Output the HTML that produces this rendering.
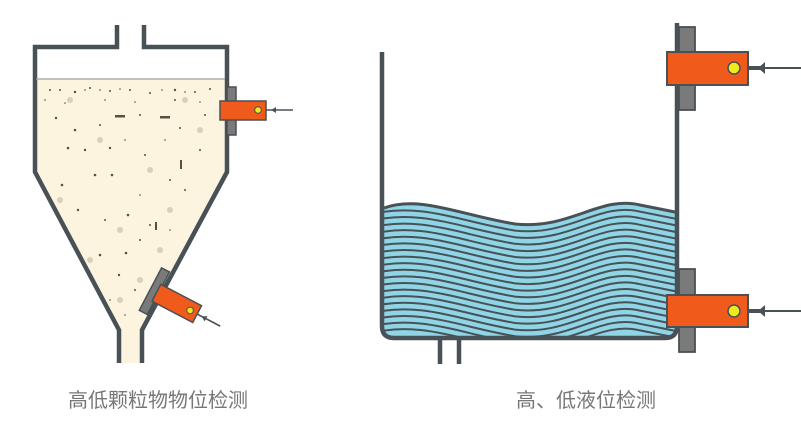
<!DOCTYPE html>
<html><head><meta charset="utf-8"><style>
html,body{margin:0;padding:0;background:#fff;width:801px;height:424px;overflow:hidden}
.t{position:absolute;font-family:"Liberation Sans","Noto Sans CJK SC",sans-serif;font-size:20px;color:#777;white-space:nowrap;top:384px}
</style></head><body>
<svg width="801" height="424" style="position:absolute;left:0;top:0">
<defs>
<clipPath id="fillc"><path d="M36 79 H225 V172 L140 330 V363 H121 V330 L36 172 Z"/></clipPath>
<clipPath id="wc"><path d="M384 208 C420 195 460 215 515 224 C570 230 600 195 640 205 L675 212 V328 Q675 336 667 336 H392 Q384 336 384 328 Z"/></clipPath>
</defs>
<rect x="30" y="79" width="200" height="290" fill="#fdf4e0" clip-path="url(#fillc)"/>
<g clip-path="url(#fillc)" fill="#d8d0bd">
<circle cx="70" cy="100" r="3"/><circle cx="100" cy="140" r="3"/><circle cx="150" cy="170" r="3"/><circle cx="200" cy="130" r="3"/><circle cx="60" cy="200" r="3"/><circle cx="120" cy="230" r="3"/><circle cx="170" cy="210" r="3"/><circle cx="90" cy="260" r="3"/><circle cx="140" cy="280" r="3"/><circle cx="120" cy="300" r="3"/><circle cx="185" cy="100" r="3"/><circle cx="160" cy="250" r="3"/>
</g>
<g clip-path="url(#fillc)" fill="#5a5040">
<circle cx="50" cy="90" r="1"/><circle cx="60" cy="90" r="1"/><circle cx="75" cy="92" r="1.2"/><circle cx="85" cy="90" r="0.8"/><circle cx="90" cy="88" r="1"/><circle cx="100" cy="90" r="0.8"/><circle cx="110" cy="91" r="1"/><circle cx="120" cy="89" r="0.8"/><circle cx="130" cy="90" r="1"/><circle cx="150" cy="93" r="1"/><circle cx="162" cy="90" r="0.8"/><circle cx="175" cy="90" r="1.2"/><circle cx="185" cy="92" r="0.8"/><circle cx="195" cy="92" r="1"/><circle cx="210" cy="89" r="1"/>
<circle cx="45" cy="100" r="0.8"/><circle cx="65" cy="103" r="0.8"/><circle cx="105" cy="100" r="0.8"/><circle cx="135" cy="102" r="0.8"/><circle cx="175" cy="100" r="1"/><circle cx="200" cy="102" r="0.8"/>
<circle cx="56" cy="118" r="1.2"/><circle cx="75" cy="130" r="1.3"/><circle cx="100" cy="125" r="1"/><circle cx="140" cy="115" r="1"/><circle cx="180" cy="128" r="1"/><circle cx="205" cy="115" r="1"/>
<circle cx="68" cy="148" r="1.3"/><circle cx="85" cy="150" r="1.2"/><circle cx="110" cy="148" r="1.2"/><circle cx="145" cy="155" r="1"/><circle cx="200" cy="150" r="1"/><circle cx="125" cy="140" r="0.8"/><circle cx="165" cy="140" r="0.8"/>
<circle cx="62" cy="185" r="1.3"/><circle cx="95" cy="175" r="1.3"/><circle cx="112" cy="175" r="1.3"/><circle cx="170" cy="180" r="1"/><circle cx="185" cy="190" r="1"/><circle cx="140" cy="195" r="0.8"/>
<circle cx="78" cy="210" r="1.2"/><circle cx="105" cy="220" r="1"/><circle cx="128" cy="215" r="1.3"/><circle cx="150" cy="225" r="1"/><circle cx="170" cy="230" r="0.8"/>
<circle cx="100" cy="255" r="1.3"/><circle cx="126" cy="253" r="1.3"/><circle cx="140" cy="240" r="1"/><circle cx="119" cy="275" r="1.2"/><circle cx="135" cy="290" r="1"/><circle cx="110" cy="300" r="0.8"/><circle cx="125" cy="315" r="0.8"/>
<rect x="115" y="115" width="10" height="2.5"/><rect x="160" y="116" width="10" height="2.5"/><rect x="180" y="160" width="2" height="9"/><rect x="155" y="222" width="2" height="8"/>
</g>
<g fill="none" stroke="#485156" stroke-width="4.5" stroke-linejoin="miter">
<path d="M117 25 V47 H35 V172 L119 330 V363"/>
<path d="M144 25 V47 H227 V172 L142 330 V363"/>
</g>
<line x1="36" y1="79" x2="225" y2="79" stroke="#9aa0a2" stroke-width="1.2"/>
<rect x="227" y="87" width="9" height="48" fill="#7a7a7a" stroke="#485156" stroke-width="1.5"/>
<rect x="220" y="101" width="46" height="19" fill="#f05a1a" stroke="#485156" stroke-width="1.5"/>
<circle cx="258" cy="110" r="3.3" fill="#f2e81e" stroke="#485156" stroke-width="1"/>
<line x1="266" y1="110" x2="293" y2="110" stroke="#485156" stroke-width="1.6"/>
<path d="M276 107 L271 110 L276 113 Z" fill="#485156"/>
<g transform="translate(177,303) rotate(27.6)">
<rect x="-30" y="-24" width="9" height="48" fill="#7a7a7a" stroke="#485156" stroke-width="1.5"/>
<rect x="-23" y="-9" width="46" height="19" fill="#f05a1a" stroke="#485156" stroke-width="1.5"/>
<circle cx="15" cy="0.5" r="3.3" fill="#f2e81e" stroke="#485156" stroke-width="1"/>
<line x1="23" y1="0.5" x2="49" y2="0.5" stroke="#485156" stroke-width="1.6"/>
<path d="M33 -2.5 L28 0.5 L33 3.5 Z" fill="#485156"/>
</g>
<g clip-path="url(#wc)">
<rect x="380" y="190" width="300" height="150" fill="#8fd5e6"/>
<g fill="none" stroke="#485156" stroke-width="2">
<path id="wv" d="M370 208 C420 195 460 215 515 224 C570 230 600 195 640 205 L690 215"/>
<use href="#wv" y="6.6"/><use href="#wv" y="13.2"/><use href="#wv" y="19.8"/><use href="#wv" y="26.4"/><use href="#wv" y="33"/><use href="#wv" y="39.6"/><use href="#wv" y="46.2"/><use href="#wv" y="52.8"/><use href="#wv" y="59.4"/><use href="#wv" y="66"/><use href="#wv" y="72.6"/><use href="#wv" y="79.2"/><use href="#wv" y="85.8"/><use href="#wv" y="92.4"/><use href="#wv" y="99"/><use href="#wv" y="105.6"/><use href="#wv" y="112.2"/><use href="#wv" y="118.8"/><use href="#wv" y="125.4"/>
</g>
</g>
<path d="M384 208 C420 195 460 215 515 224 C570 230 600 195 640 205 L675 212" fill="none" stroke="#485156" stroke-width="3"/>
<path d="M382 52 V326 Q382 338 394 338 H665 Q677 338 677 326 V23" fill="none" stroke="#485156" stroke-width="4.5"/>
<line x1="440" y1="338" x2="440" y2="364" stroke="#485156" stroke-width="4.5"/>
<line x1="459" y1="338" x2="459" y2="364" stroke="#485156" stroke-width="4.5"/>
<rect x="679" y="27" width="16" height="83" fill="#7a7a7a" stroke="#485156" stroke-width="1.8"/>
<rect x="667" y="52" width="81" height="33" fill="#f05a1a" stroke="#485156" stroke-width="2"/>
<circle cx="734" cy="68" r="6" fill="#f2e81e" stroke="#485156" stroke-width="1.5"/>
<line x1="748" y1="68" x2="801" y2="68" stroke="#485156" stroke-width="2"/>
<path d="M765 62 L758 68 L765 74 Z" fill="#485156"/><rect x="748" y="66" width="12" height="4" fill="#485156"/>
<rect x="679" y="269" width="16" height="83" fill="#7a7a7a" stroke="#485156" stroke-width="1.8"/>
<rect x="667" y="295" width="81" height="32" fill="#f05a1a" stroke="#485156" stroke-width="2"/>
<circle cx="734" cy="311" r="6" fill="#f2e81e" stroke="#485156" stroke-width="1.5"/>
<line x1="748" y1="311" x2="801" y2="311" stroke="#485156" stroke-width="2"/>
<path d="M765 305 L758 311 L765 317 Z" fill="#485156"/><rect x="748" y="309" width="12" height="4" fill="#485156"/>
</svg>
<div class="t" style="left:68px">高低颗粒物物位检测</div>
<div class="t" style="left:516px">高、低液位检测</div>
</body></html>
